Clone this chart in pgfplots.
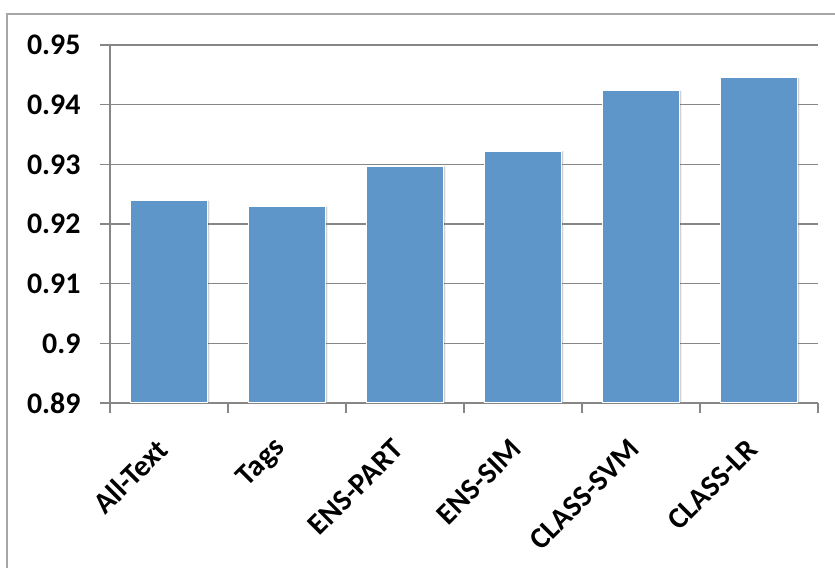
\documentclass[border=0pt]{standalone}
\usepackage{pgfplots}
\pgfplotsset{compat=1.18}
\usetikzlibrary{shadows}
\usepackage{fontspec}
\setmainfont{Carlito}
\definecolor{barblue}{RGB}{94,150,201}
\definecolor{gridgray}{RGB}{134,134,134}
\definecolor{framegray}{RGB}{166,166,166}
\begin{document}
\begin{tikzpicture}
\useasboundingbox (0,0) rectangle (835bp,568bp);
\draw[framegray, line width=2bp] (7bp,-10bp) -- (7bp,554bp) -- (850bp,554bp);
\begin{axis}[
  at={(110bp,165bp)}, anchor=south west,
  width=708bp, height=358bp, scale only axis,
  xmin=-0.5, xmax=5.5, ymin=0.89, ymax=0.95,
  axis x line*=bottom, axis y line*=left,
  axis line style={gridgray, line width=1.5bp, -},
  xtick={0,1,2,3,4,5},
  xticklabels={All-Text,Tags,ENS-PART,ENS-SIM,CLASS-SVM,CLASS-LR},
  major x tick style={draw=none},
  minor xtick={-0.5,0.5,1.5,2.5,3.5,4.5,5.5},
  minor tick length=10bp,
  minor x tick style={gridgray, line width=1.5bp},
  ytick={0.89,0.9,0.91,0.92,0.93,0.94,0.95},
  yticklabels={0.89,0.9,0.91,0.92,0.93,0.94,0.95},
  major tick length=10bp,
  tick align=outside,
  y tick style={gridgray, line width=1.5bp},
  ymajorgrids, grid style={gridgray, line width=1.5bp},
  yticklabel style={font=\bfseries\fontsize{30}{36}\selectfont, xshift=-16bp},
  xticklabel style={font=\bfseries\fontsize{30}{36}\selectfont, xshift=-4bp, yshift=-29bp, rotate=45, anchor=east},
  /pgf/number format/assume math mode=true,
  ybar, bar width=0.66,
  clip=true,
]
\addplot[fill=barblue, draw=white, line width=1bp,
  drop shadow={shadow xshift=1.5bp, shadow yshift=0bp, opacity=0.18, fill=black}] coordinates {
  (0,0.9239) (1,0.9229) (2,0.9297) (3,0.9322) (4,0.9423) (5,0.9445)
};
\end{axis}
\end{tikzpicture}
\end{document}
